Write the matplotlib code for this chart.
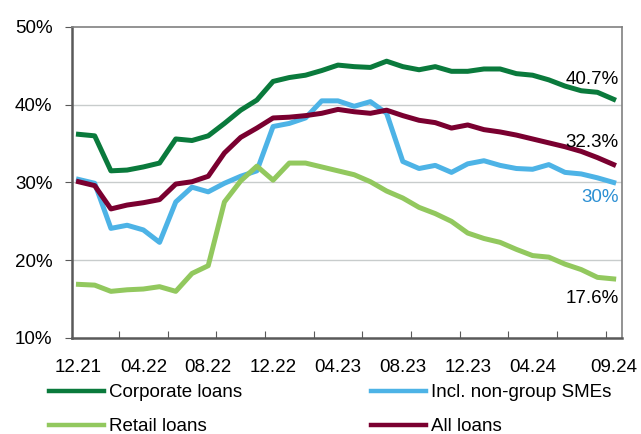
import numpy as np
import matplotlib
matplotlib.use("Agg")
import matplotlib.pyplot as plt

plt.rcParams['font.family'] = ['Liberation Sans', 'DejaVu Sans']

# monthly, 12.21 .. 09.24
corporate = [36.2, 36.0, 31.5, 31.6, 32.0, 32.5, 35.6, 35.4, 36.0, 37.6,
             39.3, 40.6, 43.0, 43.5, 43.8, 44.4, 45.1, 44.9, 44.8, 45.6,
             44.9, 44.5, 44.9, 44.3, 44.3, 44.6, 44.6, 44.0, 43.8, 43.2,
             42.4, 41.8, 41.6, 40.7]
smes = [30.4, 29.9, 24.1, 24.5, 23.9, 22.3, 27.5, 29.4, 28.8, 29.9,
        30.8, 31.5, 37.2, 37.6, 38.3, 40.5, 40.5, 39.8, 40.4, 38.9,
        32.7, 31.8, 32.2, 31.3, 32.4, 32.8, 32.2, 31.8, 31.7, 32.3,
        31.3, 31.1, 30.6, 30.0]
retail = [16.9, 16.8, 16.0, 16.2, 16.3, 16.6, 16.0, 18.3, 19.3, 27.5,
          30.2, 32.1, 30.3, 32.5, 32.5, 32.0, 31.5, 31.0, 30.1, 28.9,
          28.0, 26.8, 26.0, 25.0, 23.5, 22.8, 22.3, 21.4, 20.6, 20.4,
          19.5, 18.8, 17.8, 17.6]
all_loans = [30.1, 29.6, 26.6, 27.1, 27.4, 27.8, 29.8, 30.1, 30.8, 33.8,
             35.8, 37.0, 38.3, 38.4, 38.6, 38.9, 39.4, 39.1, 38.9, 39.3,
             38.6, 38.0, 37.7, 37.0, 37.4, 36.8, 36.5, 36.1, 35.6, 35.1,
             34.6, 34.0, 33.2, 32.3]
label_pos = [0, 4, 8, 12, 16, 20, 24, 28, 33]
labels = ["12.21", "04.22", "08.22", "12.22", "04.23", "08.23", "12.23",
          "04.24", "09.24"]

c_corp = "#0A7A3C"
c_sme = "#4DB3E6"
c_retail = "#92C85E"
c_all = "#7A0030"
fs = 13.5

fig = plt.figure(figsize=(6.41, 4.34), dpi=100)
ax = fig.add_axes([0.1123, 0.2212, 0.8577, 0.7166])

x = np.arange(len(corporate))
lw = 3.6
l1, = ax.plot(x, corporate, color=c_corp, lw=lw)
l2, = ax.plot(x, smes, color=c_sme, lw=lw)
l3, = ax.plot(x, retail, color=c_retail, lw=lw)
l4, = ax.plot(x, all_loans, color=c_all, lw=lw)

ax.set_xlim(-0.4, 33.5)
ax.set_ylim(10, 50)
ax.set_yticks([10, 20, 30, 40, 50])
ax.set_yticklabels([f"{v}%" for v in [10, 20, 30, 40, 50]], fontsize=fs)
ax.set_xticks(np.arange(2.5, 33, 3))
ax.set_xticklabels([])
ax.set_xticks(label_pos, minor=True)
ax.set_xticklabels(labels, minor=True, fontsize=fs)
ax.tick_params(axis='x', which='minor', length=0, pad=15)
ax.tick_params(axis='x', which='major', direction='in', length=5, color="#595959")
ax.tick_params(axis='y', direction='out', length=5, color="#595959", pad=9)

for v in [20, 30, 40]:
    ax.axhline(v, color="#C8CCCC", lw=1, zorder=0)
for s in ['left', 'bottom']:
    ax.spines[s].set_color("#595959")
    ax.spines[s].set_linewidth(1.8)
for s in ['top', 'right']:
    ax.spines[s].set_color("#808080")
    ax.spines[s].set_linewidth(1.2)

ax.text(33.3, corporate[-1] + 2.6, "40.7%", ha='right', va='center', fontsize=fs)
ax.text(33.3, all_loans[-1] + 2.8, "32.3%", ha='right', va='center', fontsize=fs)
ax.text(33.3, smes[-1] - 1.9, "30%", ha='right', va='center', fontsize=fs,
        color="#2B8FD3")
ax.text(33.3, retail[-1] - 2.5, "17.6%", ha='right', va='center', fontsize=fs)

leg_kw = dict(loc='upper left', frameon=False, fontsize=fs, handlelength=2.95,
              handletextpad=0.27, labelspacing=0.9, borderaxespad=0,
              borderpad=0)
leg1 = fig.legend([l1, l3], ["Corporate loans", "Retail loans"],
                  bbox_to_anchor=(49 / 641, 1 - 384 / 434), **leg_kw)
leg2 = fig.legend([l2, l4], ["Incl. non-group SMEs", "All loans"],
                  bbox_to_anchor=(371 / 641, 1 - 384 / 434), **leg_kw)
for leg in (leg1, leg2):
    for ln in leg.get_lines():
        ln.set_linewidth(3.2)

fig.savefig("out.png", dpi=100)
